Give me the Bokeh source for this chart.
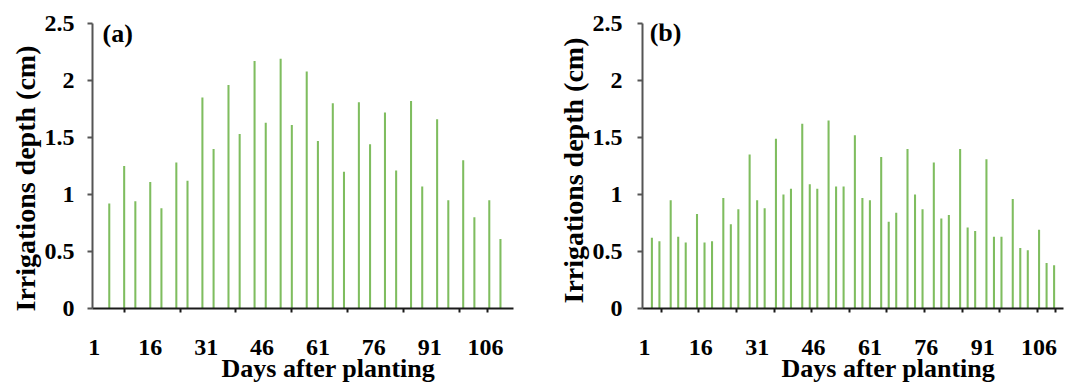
from bokeh.plotting import figure
from bokeh.layouts import row
from bokeh.models import Range1d, LinearAxis, FixedTicker, Title, Label
from bokeh.embed import file_html
from bokeh.resources import INLINE

# Irrigation schedule, panel (a): twice-weekly events
days_a = [5, 9, 12, 16, 19, 23, 26, 30, 33, 37, 40, 44, 47, 51, 54, 58,
          61, 65, 68, 72, 75, 79, 82, 86, 89, 93, 96, 100, 103, 107, 110]
depth_a = [0.92, 1.25, 0.94, 1.11, 0.88, 1.28, 1.12, 1.85, 1.40, 1.96, 1.53,
           2.17, 1.63, 2.19, 1.61, 2.08, 1.47, 1.80, 1.20, 1.81, 1.44, 1.72,
           1.21, 1.82, 1.07, 1.66, 0.95, 1.30, 0.80, 0.95, 0.61]

# Irrigation schedule, panel (b): three events per week
days_b = [3, 5, 8, 10, 12, 15, 17, 19, 22, 24, 26, 29, 31, 33, 36, 38, 40,
          43, 45, 47, 50, 52, 54, 57, 59, 61, 64, 66, 68, 71, 73, 75, 78, 80,
          82, 85, 87, 89, 92, 94, 96, 99, 101, 103, 106, 108, 110]
depth_b = [0.62, 0.59, 0.95, 0.63, 0.58, 0.83, 0.58, 0.59, 0.97, 0.74, 0.87,
           1.35, 0.95, 0.88, 1.49, 1.00, 1.05, 1.62, 1.09, 1.05, 1.65, 1.07,
           1.07, 1.52, 0.97, 0.95, 1.33, 0.76, 0.84, 1.40, 1.00, 0.87, 1.28,
           0.79, 0.82, 1.40, 0.71, 0.68, 1.31, 0.63, 0.63, 0.96, 0.53, 0.51,
           0.69, 0.40, 0.38]

# Axis ticks and labels
x_label_days = [1, 16, 31, 46, 61, 76, 91, 106]
x_tick_marks_a = [9, 24, 39, 54, 69, 84, 99, 106.5]
x_tick_marks_b = [5.5, 15.5, 25.5, 35.5, 45.5, 55.5, 65.5, 75.5, 85.5, 95.5, 105.5, 110.5]
y_ticks = [0, 0.5, 1, 1.5, 2, 2.5]
y_tick_labels = ["0", "0.5", "1", "1.5", "2", "2.5"]

FONT = "Liberation Serif"
BAR_COLOR = "#7fbd5f"
TOP = 23
FRAME_H = 285


def make_panel(tag, days, depth, n_days, tick_marks, border_left, border_right,
               y_standoff, tag_x, tag_dy, ylab_offset, xlab_offset):
    p = figure(title=None, frame_width=421, frame_height=FRAME_H,
               min_border_left=border_left, min_border_right=border_right,
               min_border_top=TOP, min_border_bottom=386 - TOP - FRAME_H,
               x_range=Range1d(0.5, n_days + 0.5), y_range=Range1d(0, 2.5),
               x_axis_location=None, y_axis_location=None,
               output_backend="svg", toolbar_location=None)
    p.outline_line_color = None
    p.xgrid.visible = False
    p.ygrid.visible = False
    p.background_fill_color = "white"
    p.border_fill_color = "white"

    p.vbar(x=days, top=depth, width=0.55, bottom=0,
           fill_color=BAR_COLOR, line_color=None)

    # y axis
    yax = LinearAxis(ticker=FixedTicker(ticks=y_ticks, minor_ticks=[]))
    yax.major_label_overrides = {t: s for t, s in zip(y_ticks, y_tick_labels)}
    yax.axis_line_color = "#555555"
    yax.axis_line_width = 2
    yax.major_tick_line_color = "#555555"
    yax.major_tick_line_width = 2
    yax.major_tick_out = 5
    yax.major_tick_in = 0
    yax.minor_tick_out = 0
    yax.major_label_standoff = y_standoff
    yax.major_label_text_font = FONT
    yax.major_label_text_font_style = "bold"
    yax.major_label_text_font_size = "24px"
    yax.major_label_text_color = "black"
    p.add_layout(yax, "left")

    ytitle = Title(text="Irrigations depth (cm)", align="left", offset=ylab_offset,
                   standoff=2, text_font=FONT, text_font_style="bold",
                   text_font_size="28px", text_color="black")
    p.add_layout(ytitle, "left")

    # x axis: tick marks only
    xmarks = LinearAxis(ticker=FixedTicker(ticks=tick_marks, minor_ticks=[]))
    xmarks.major_label_overrides = {t: "" for t in tick_marks}
    xmarks.axis_line_color = "#1a1a1a"
    xmarks.axis_line_width = 2
    xmarks.major_tick_line_color = "#1a1a1a"
    xmarks.major_tick_line_width = 2
    xmarks.major_tick_out = 4
    xmarks.major_tick_in = 0
    xmarks.minor_tick_out = 0
    xmarks.major_label_standoff = 0
    p.add_layout(xmarks, "below")

    # x axis: day labels
    xlabels = LinearAxis(ticker=FixedTicker(ticks=x_label_days, minor_ticks=[]))
    xlabels.axis_line_color = None
    xlabels.major_tick_line_color = None
    xlabels.major_tick_out = 0
    xlabels.major_tick_in = 0
    xlabels.minor_tick_out = 0
    xlabels.major_label_standoff = 27
    xlabels.major_label_text_font = FONT
    xlabels.major_label_text_font_style = "bold"
    xlabels.major_label_text_font_size = "24px"
    xlabels.major_label_text_color = "black"
    p.add_layout(xlabels, "below")

    xtitle = Title(text="Days after planting", align="left", offset=xlab_offset,
                   vertical_align="top", standoff=-8, text_font=FONT,
                   text_font_style="bold", text_font_size="26px", text_color="black")
    p.add_layout(xtitle, "below")

    p.add_layout(Label(x=tag_x, y=2.5, y_offset=tag_dy, text=tag, text_baseline="top",
                       text_font=FONT, text_font_style="bold",
                       text_font_size="26px", text_color="black"))
    return p


pa = make_panel("(a)", days_a, depth_a, 113, x_tick_marks_a,
                border_left=92, border_right=23, y_standoff=13,
                tag_x=3.2, tag_dy=5, ylab_offset=-3, xlab_offset=129)
pb = make_panel("(b)", days_b, depth_b, 112, x_tick_marks_b,
                border_left=106, border_right=9, y_standoff=15,
                tag_x=2.4, tag_dy=6, ylab_offset=5, xlab_offset=139)

layout = row(pa, pb, spacing=0)
open("out.html", "w").write(file_html(layout, INLINE))
